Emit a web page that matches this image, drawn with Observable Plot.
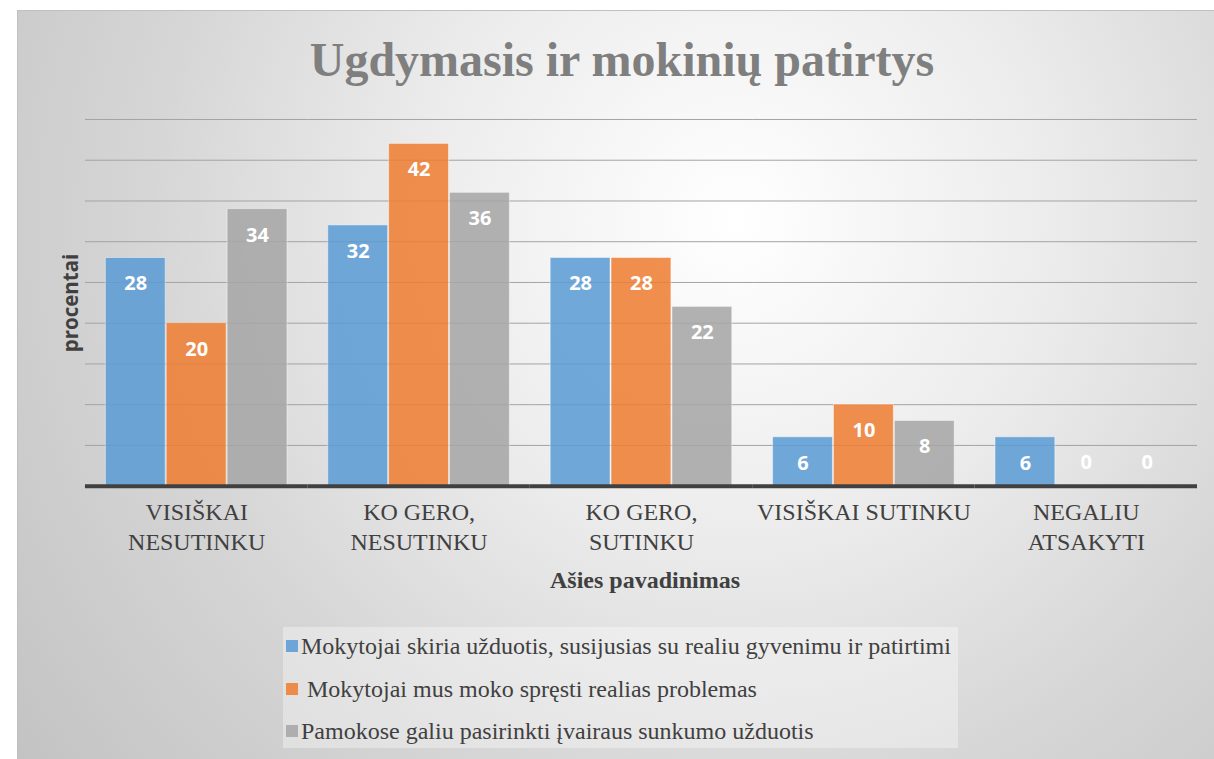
<!DOCTYPE html>
<html>
<head>
<meta charset="utf-8">
<script src="https://cdn.jsdelivr.net/npm/d3@7"></script>
<script src="https://cdn.jsdelivr.net/npm/@observablehq/plot@0.6"></script>
<style>
  html, body { margin: 0; padding: 0; background: #ffffff; }
  body { width: 1214px; height: 759px; position: relative; overflow: hidden; }
  #frame {
    position: absolute; left: 17px; top: 10px; width: 1197px; height: 749px;
    background: radial-gradient(circle farthest-corner at 60% 28%, #ffffff 0%, #ececec 35%, #d6d6d6 65%, #c3c3c3 100%);
    border-top: 1px solid #c0c0c0; border-left: 1px solid #c0c0c0; box-sizing: border-box;
  }
  .serif { font-family: "Liberation Serif", "Times New Roman", serif; }
  #title {
    position: absolute; left: 604px; top: 25px; transform: translateX(-50%);
    font-weight: bold; font-size: 48px; line-height: 48px; color: #7f7f7f; white-space: nowrap;
  }
  #chart { position: absolute; left: -1px; top: 89px; }
  #xlabel {
    position: absolute; left: 627px; top: 557px; transform: translateX(-50%);
    font-weight: bold; font-size: 24px; line-height: 24px;
    color: #404040; white-space: nowrap;
  }
  #ylabel {
    position: absolute; left: 52px; top: 292px; transform: translate(-50%, -50%) rotate(-90deg);
    font-family: "Open Sans", sans-serif; font-weight: bold; font-size: 20.5px; color: #404040; white-space: nowrap;
  }
  #legend {
    position: absolute; left: 265px; top: 616px; width: 675px; height: 121px;
    background: rgba(255,255,255,0.35);
  }
  .item {
    position: absolute; left: 3px; height: 26px; line-height: 26px; display: flex; align-items: center;
    font-size: 24px; color: #404040; white-space: pre;
  }
  .sw { width: 12px; height: 12px; margin-right: 3px; flex: none; }
</style>
</head>
<body>
<div id="frame">
  <div id="title" class="serif"></div>
  <div id="chart"></div>
  <div id="xlabel" class="serif"></div>
  <div id="ylabel"></div>
  <div id="legend" class="serif"></div>
</div>
<script>
const titleText = "Ugdymasis ir mokinių patirtys";
const xAxisTitle = "Ašies pavadinimas";
const yAxisTitle = "procentai";
const categories = ["VISIŠKAI NESUTINKU", "KO GERO, NESUTINKU", "KO GERO, SUTINKU", "VISIŠKAI SUTINKU", "NEGALIU ATSAKYTI"];
const categoryLabels = ["VISIŠKAI\nNESUTINKU", "KO GERO,\nNESUTINKU", "KO GERO,\nSUTINKU", "VISIŠKAI SUTINKU", "NEGALIU\nATSAKYTI"];
const series = [
  "Mokytojai skiria užduotis, susijusias su realiu gyvenimu ir patirtimi",
  " Mokytojai mus moko spręsti realias problemas",
  "Pamokose galiu pasirinkti įvairaus sunkumo užduotis"
];
const seriesColors = ["#5b9bd5", "#ed7d31", "#a5a5a5"];
const values1 = [28, 32, 28, 6, 6];
const values2 = [20, 42, 28, 10, 0];
const values3 = [34, 36, 22, 8, 0];
const yTicks = [5, 10, 15, 20, 25, 30, 35, 40, 45];

const allValues = [values1, values2, values3];
const rows = [];
categories.forEach((c, i) => {
  series.forEach((s, j) => rows.push({cat: c, series: s, value: allValues[j][i]}));
});
const labelOf = new Map(categories.map((c, i) => [c, categoryLabels[i]]));

document.getElementById("title").textContent = titleText;
document.getElementById("xlabel").textContent = xAxisTitle;
document.getElementById("ylabel").textContent = yAxisTitle;

const serifStack = "'Liberation Serif', 'Times New Roman', serif";
const chart = Plot.plot({
  width: 1198,
  height: 510,
  marginLeft: 68,
  marginRight: 17,
  marginTop: 19,
  marginBottom: 124,
  style: {background: "transparent", fontFamily: serifStack, color: "#404040"},
  fx: {domain: categories, padding: 0, round: false, label: null},
  x: {domain: series, axis: null, paddingInner: 0.017, paddingOuter: 0.335, round: false},
  y: {domain: [0, 45], axis: null},
  color: {domain: series, range: seriesColors},
  marks: [
    Plot.gridY(yTicks, {stroke: "#a3a3a3", strokeOpacity: 1, strokeWidth: 1}),
    Plot.barY(rows, {fx: "cat", x: "series", y: "value", fill: "series", fillOpacity: 0.86, stroke: "#ffffff", strokeOpacity: 0.45, strokeWidth: 1}),
    Plot.ruleY([0], {stroke: "#404040", strokeWidth: 4}),
    Plot.text(rows.filter(d => d.value > 0), {fx: "cat", x: "series", y: "value", text: d => String(d.value), dy: 26, fill: "white", fontFamily: "Open Sans", fontWeight: "bold", fontSize: 20}),
    Plot.text(rows.filter(d => d.value === 0), {fx: "cat", x: "series", y: "value", text: d => String(d.value), dy: -24, fill: "white", fontFamily: "Open Sans", fontWeight: "bold", fontSize: 20}),
    Plot.axisFx({anchor: "bottom", tickSize: 0, tickPadding: 13, fontSize: 24, lineHeight: 1.25, label: null, tickFormat: d => labelOf.get(d), fill: "#404040", fontFamily: serifStack})
  ]
});
document.getElementById("chart").appendChild(chart);

const legend = document.getElementById("legend");
const centers = [19, 62, 104];
series.forEach((s, j) => {
  const item = document.createElement("div");
  item.className = "item";
  item.style.top = (centers[j] - 13) + "px";
  const sw = document.createElement("span");
  sw.className = "sw";
  sw.style.background = seriesColors[j];
  sw.style.opacity = 0.86;
  const tx = document.createElement("span");
  tx.textContent = s;
  item.appendChild(sw);
  item.appendChild(tx);
  legend.appendChild(item);
});
</script>
</body>
</html>
